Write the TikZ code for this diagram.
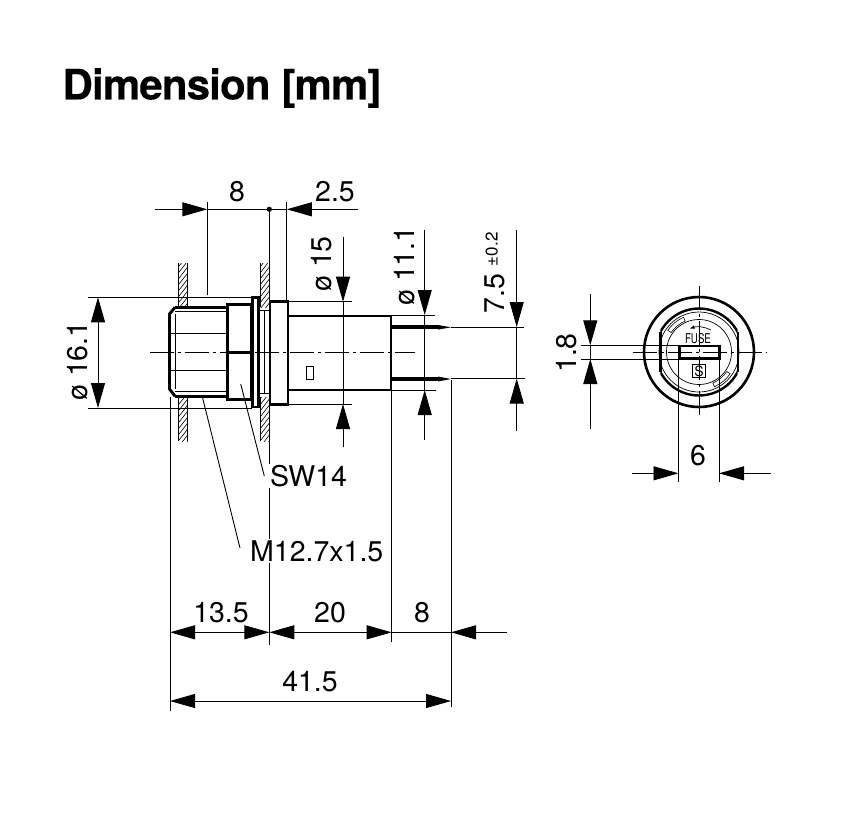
\documentclass[tikz,border=0pt]{standalone}
\usepackage{fontspec}
\setmainfont[BoldFeatures={FakeBold=0.3,LetterSpace=-2}]{TeX Gyre Heros}
\usetikzlibrary{arrows.meta}

\begin{document}
\begin{tikzpicture}
[x=1pt,y=-1pt,
thin line/.style={line width=0.9pt},
body/.style={line width=2.9pt,line join=miter},
center line/.style={line width=0.9pt,dash pattern=on 24pt off 4pt on 3pt off 4pt},
dim/.style={line width=0.9pt,>={Triangle[length=25pt,width=14pt]}},
lab/.style={font=\fontsize{28.5}{32}\selectfont,inner sep=1.5pt},
rlab/.style={lab,rotate=90},
hatch/.style={line width=0.6pt}]

\useasboundingbox (0,0) rectangle (853,815);

\node[font=\fontsize{42}{46}\selectfont\bfseries,inner sep=0pt] (title) at (222,88) {Dimension [mm]};

% mounting panel
\foreach \wx in {178.3,260}{
\foreach \wa/\wb in {263/307,397/441}{
\begin{scope}
\clip (\wx,\wa) rectangle ++(9.4,\wb-\wa);
\foreach \h in {255,261,...,455}
\draw [hatch] (\wx,\h) -- ++(9.4,-12);
\end{scope}
\draw [thin line] (\wx,\wa) -- (\wx,\wb);
\draw [thin line] (\wx+9.4,\wa) -- (\wx+9.4,\wb);
}}

% side view, threaded part
\fill [white] (170,307) rectangle (227,397);
\draw [body] (175,307.3) -- (227.3,307.3);
\draw [body] (175,396.2) -- (227.3,396.2);
\draw [body] (175,307.3) -- (169.5,314) -- (169.5,389) -- (175,396.2);
\draw [thin line] (175,311.7) -- (227,311.7);
\draw [thin line] (175,391.7) -- (227,391.7);
\draw [thin line] (175,314) -- (175,389);
\draw [thin line] (171,333.3) -- (227,333.3);
\draw [thin line] (171,370.7) -- (227,370.7);

% hexagon, washer, flange, housing
\draw [body,fill=white] (227.3,304.3) rectangle (251.7,399.3);
\draw [body] (227.3,352.7) -- (251.7,352.7);
\draw [thin line] (258,310) -- (270,310);
\draw [thin line] (258,393) -- (270,393);
\draw [thin line] (264.3,310) -- (264.3,393);
\draw [body,fill=white] (252.5,297.5) rectangle (258.3,407);
\draw [body,fill=white] (270,301.7) rectangle (288,404.3);
\draw [body] (288,316) -- (391,316) -- (391,390) -- (288,390);
\draw [thin line] (306.7,366) rectangle (313.3,379.3);

% pins
\draw [line width=4pt] (391,327.3) -- (438,327.3);
\fill (438,325) -- (451,327.3) -- (438,329.6) -- cycle;
\draw [line width=4.5pt] (391,379) -- (438,379);
\fill (438,376.5) -- (451,379) -- (438,381.5) -- cycle;

\draw [center line] (150,352.7) -- (415,352.7);

% dimensions on top
\coordinate (t8a) at (155,209.3);
\coordinate (t8b) at (207.3,209.3);
\coordinate (t8c) at (207.3,202);
\coordinate (t8d) at (207.3,295);
\coordinate (t25a) at (286.8,209.3);
\coordinate (t25b) at (358,209.3);
\coordinate (t25c) at (286.8,202);
\coordinate (t25d) at (286.8,302);
\coordinate (tdot) at (269.3,209.3);
\coordinate (tdotb) at (269.3,408);

\draw [dim,->] (t8a) -- (t8b);
\draw [dim] (t8b) -- (t25a);
\draw [dim,->] (t25b) -- (t25a);
\draw [thin line] (t8c) -- (t8d);
\draw [thin line] (t25c) -- (t25d);
\draw [thin line] (tdot) -- (tdotb);
\fill (tdot) circle (2.6pt);

\node[lab] (l8) at (237,192) {8};
\node[lab] (l25) at (335,192) {2.5};

% diameter 16.1
\coordinate (a161) at (88,297.3);
\coordinate (b161) at (252,297.3);
\coordinate (c161) at (88,408);
\coordinate (d161) at (252,408);
\coordinate (e161) at (98,297.3);
\coordinate (f161) at (98,408);
\draw [thin line] (a161) -- (b161);
\draw [thin line] (c161) -- (d161);
\draw [dim,<->] (e161) -- (f161);
\node[rlab] (l161) at (78,361) {ø 16.1};

% diameter 15
\coordinate (a15) at (288,301.7);
\coordinate (b15) at (352,301.7);
\coordinate (c15) at (288,404);
\coordinate (d15) at (352,404);
\coordinate (e15) at (343,236.7);
\coordinate (f15) at (343,301.7);
\coordinate (g15) at (343,404);
\coordinate (h15) at (343,446.7);
\draw [thin line] (a15) -- (b15);
\draw [thin line] (c15) -- (d15);
\draw [dim,->] (e15) -- (f15);
\draw [thin line] (f15) -- (g15);
\draw [dim,->] (h15) -- (g15);
\node[rlab] (l15) at (322,264) {ø 15};

% diameter 11.1
\coordinate (a111) at (391,315);
\coordinate (b111) at (435,315);
\coordinate (c111) at (391,390);
\coordinate (d111) at (436,390);
\coordinate (e111) at (424.7,230);
\coordinate (f111) at (424.7,315);
\coordinate (g111) at (424.7,390);
\coordinate (h111) at (424.7,440);
\draw [thin line] (a111) -- (b111);
\draw [thin line] (c111) -- (d111);
\draw [dim,->] (e111) -- (f111);
\draw [thin line] (f111) -- (g111);
\draw [dim,->] (h111) -- (g111);
\node[rlab] (l111) at (405,266) {ø 11.1};

% pin spacing
\coordinate (a75) at (451,327);
\coordinate (b75) at (524,327);
\coordinate (c75) at (451,378.5);
\coordinate (d75) at (525,378.5);
\coordinate (e75) at (516.7,230);
\coordinate (f75) at (516.7,327);
\coordinate (g75) at (516.7,378.5);
\coordinate (h75) at (516.7,430.7);
\draw [thin line] (a75) -- (b75);
\draw [thin line] (c75) -- (d75);
\draw [dim,->] (e75) -- (f75);
\draw [thin line] (f75) -- (g75);
\draw [dim,->] (h75) -- (g75);
\node[rlab] (l75) at (495,273) {7.5 \raisebox{7pt}{\fontsize{17}{17}\selectfont ±0.2}};

% dimensions below
\coordinate (v170a) at (170,397);
\coordinate (v170b) at (170,710.7);
\coordinate (v269a) at (269.3,408);
\coordinate (v269b) at (269.3,645);
\coordinate (v391a) at (391.7,390);
\coordinate (v391b) at (391.7,641.7);
\coordinate (v451a) at (451,380);
\coordinate (v451b) at (451,707);
\draw [thin line] (v170a) -- (v170b);
\draw [thin line] (v269a) -- (v269b);
\draw [thin line] (v391a) -- (v391b);
\draw [thin line] (v451a) -- (v451b);

\coordinate (r1a) at (170,632.3);
\coordinate (r1b) at (269.3,632.3);
\coordinate (r1c) at (391.7,632.3);
\coordinate (r1d) at (451,632.3);
\coordinate (r1e) at (506.7,632.3);
\coordinate (r2a) at (170,701);
\coordinate (r2b) at (451,701);
\draw [dim,<->] (r1a) -- (r1b);
\draw [dim,<->] (r1b) -- (r1c);
\draw [dim] (r1c) -- (r1d);
\draw [dim,->] (r1e) -- (r1d);
\draw [dim,<->] (r2a) -- (r2b);

\node[lab] (l135) at (221,613) {13.5};
\node[lab] (l20) at (330,613) {20};
\node[lab] (l8b) at (422,613) {8};
\node[lab] (l415) at (310,682) {41.5};

% leaders
\coordinate (sw) at (240.7,384);
\coordinate (swb) at (264.3,476);
\coordinate (mt) at (202.3,396.7);
\coordinate (mtb) at (240,548);
\draw [thin line] (sw) -- (swb);
\draw [thin line] (mt) -- (mtb);
\node[lab,fill=white,anchor=west] (lsw) at (268.5,476) {SW14};
\node[lab,fill=white,anchor=west] (lmt) at (248.5,551) {M12.7x1.5};

% front view
\coordinate (rc) at (699,352);
\draw [line width=2.6pt] (rc) circle (55pt);
\begin{scope}
\clip (660.3,300) rectangle (737.7,404);
\draw [line width=2.4pt] (rc) circle (43.5pt);
\end{scope}
\draw [line width=2.4pt] (660.3,332) -- (660.3,372);
\draw [line width=2.4pt] (737.7,332) -- (737.7,372);
\draw [line width=0.7pt] (rc) circle (40pt);
\draw [line width=0.7pt] (rc) circle (32.5pt);

% tabs
\foreach \ta in {114,-66}{
\draw [line width=0.6pt] ([shift={(\ta:38pt)}]rc) arc[start angle=\ta,end angle=\ta+31,radius=38pt]
-- ([shift={(\ta+31:34pt)}]rc) arc[start angle=\ta+31,end angle=\ta,radius=34pt] -- cycle;
}
\draw [line width=0.7pt,-{Latex[length=5pt,width=3.5pt]}] ([shift={(62:25pt)}]rc) arc[start angle=62,end angle=112,radius=25pt];

\node[font=\fontsize{13.5}{14}\selectfont,inner sep=0pt,xscale=0.72] (lfuse) at (698,338.7) {FUSE};
\draw [line width=2.6pt,fill=white] (679.3,346) rectangle (719.3,358.3);
\node[draw,line width=0.7pt,font=\fontsize{14}{14}\selectfont,inner sep=0pt,minimum size=13.5pt] (ls) at (699,371) {S};

\draw [center line] (632.7,352) -- (766,352);
\draw [center line] (699,286) -- (699,418);

\coordinate (a18) at (580.7,345.3);
\coordinate (b18) at (679,345.3);
\coordinate (c18) at (580.7,359);
\coordinate (d18) at (679,359);
\coordinate (e18) at (590.3,294);
\coordinate (f18) at (590.3,345.3);
\coordinate (g18) at (590.3,359);
\coordinate (h18) at (590.3,428.7);
\draw [thin line] (a18) -- (b18);
\draw [thin line] (c18) -- (d18);
\draw [dim,->] (e18) -- (f18);
\draw [dim] (f18) -- (g18);
\draw [dim,->] (h18) -- (g18);
\node[rlab] (l18) at (567,353) {1.8};

\coordinate (a6) at (678.5,358);
\coordinate (b6) at (678.5,481.7);
\coordinate (c6) at (719,358);
\coordinate (d6) at (719,481.7);
\coordinate (e6) at (632,473.3);
\coordinate (f6) at (678.5,473.3);
\coordinate (g6) at (719,473.3);
\coordinate (h6) at (770.7,473.3);
\draw [thin line] (a6) -- (b6);
\draw [thin line] (c6) -- (d6);
\draw [dim,->] (e6) -- (f6);
\draw [dim,->] (h6) -- (g6);
\node[lab] (l6) at (698,456) {6};
\end{tikzpicture}
\end{document}
